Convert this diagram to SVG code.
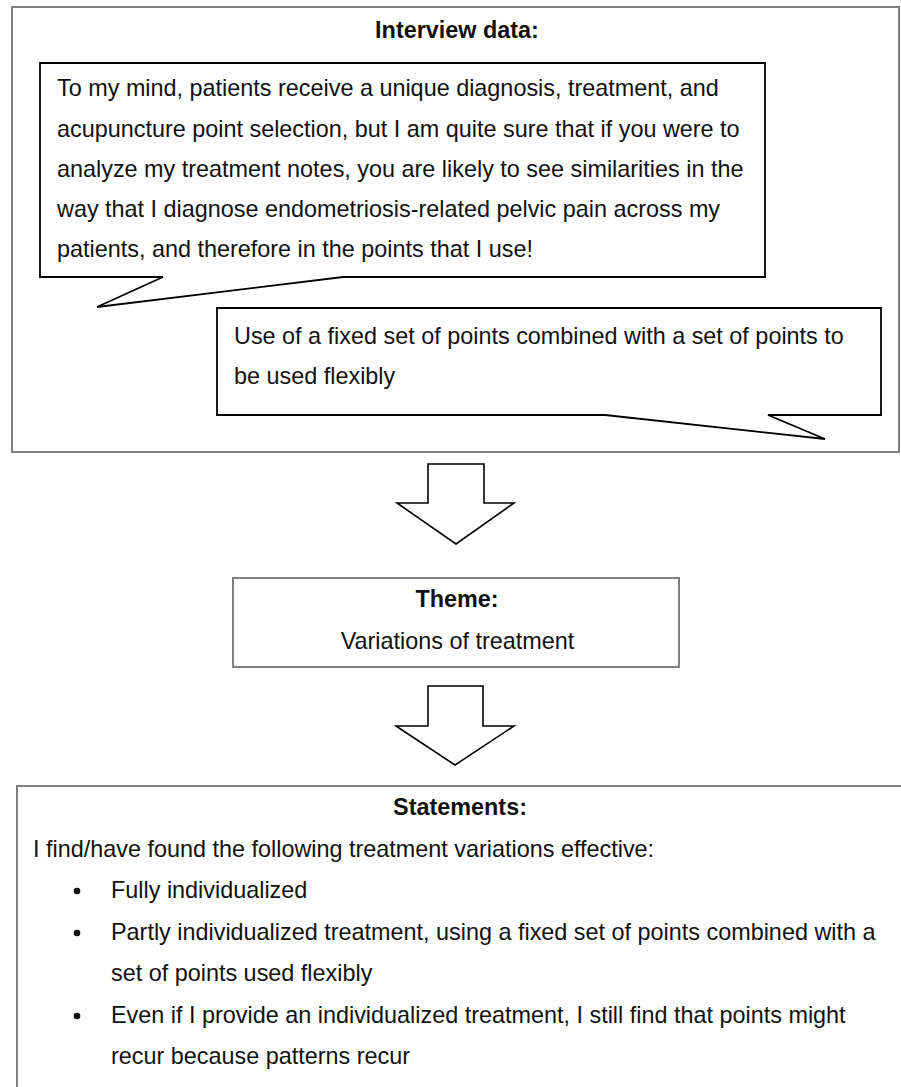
<svg xmlns="http://www.w3.org/2000/svg" width="901" height="1087" viewBox="0 0 901 1087">
<style>
  .frame { fill: #ffffff; stroke: #808080; stroke-width: 2; }
  .bubble { fill: #ffffff; stroke: #000000; stroke-width: 1.8; stroke-linejoin: miter; }
  .arrow { fill: #ffffff; stroke: #000000; stroke-width: 1.6; }
  text { font-family: "Liberation Sans", Arial, sans-serif; font-size: 23.4px; fill: #111111; }
  .bold { font-weight: bold; }
  .mid { text-anchor: middle; }
</style>
<rect x="0" y="0" width="901" height="1087" fill="#ffffff"/>
<g id="interview-data">
  <rect class="frame" x="12" y="7" width="887" height="445"/>
  <text class="bold mid" x="457" y="38">Interview data:</text>
</g>
<g id="quote-bubble">
  <polygon class="bubble" points="40,63 765,63 765,277 343,277 97,307 163,277 40,277"/>
  <text x="57" y="96">To my mind, patients receive a unique diagnosis, treatment, and</text>
  <text x="57" y="136.5">acupuncture point selection, but I am quite sure that if you were to</text>
  <text x="57" y="176.5">analyze my treatment notes, you are likely to see similarities in the</text>
  <text x="57" y="216.5">way that I diagnose endometriosis-related pelvic pain across my</text>
  <text x="57" y="256.5">patients, and therefore in the points that I use!</text>
</g>
<g id="code-bubble">
  <polygon class="bubble" points="217,308 881,308 881,415 768,415 825,439 605,415 217,415"/>
  <text x="234" y="343.5">Use of a fixed set of points combined with a set of points to</text>
  <text x="234" y="384">be used flexibly</text>
</g>
<g id="theme">
  <rect class="frame" x="233" y="578" width="446" height="89"/>
  <text class="bold mid" x="457" y="607">Theme:</text>
  <text class="mid" x="457.5" y="649">Variations of treatment</text>
</g>
<g id="statements">
  <rect class="frame" x="17" y="786" width="900" height="320"/>
  <text class="bold mid" x="460" y="815">Statements:</text>
  <text x="33" y="857">I find/have found the following treatment variations effective:</text>
  <circle cx="77" cy="891" r="3.3" fill="#111111"/>
  <text x="111" y="898">Fully individualized</text>
  <circle cx="77" cy="933" r="3.3" fill="#111111"/>
  <text x="111" y="940">Partly individualized treatment, using a fixed set of points combined with a</text>
  <text x="111" y="980.5">set of points used flexibly</text>
  <circle cx="77" cy="1016" r="3.3" fill="#111111"/>
  <text x="111" y="1023">Even if I provide an individualized treatment, I still find that points might</text>
  <text x="111" y="1063.5">recur because patterns recur</text>
</g>
<g id="connectors">
  <polygon class="arrow" points="428,464 484,464 484,503 514,503 456,544 397,503 428,503"/>
  <polygon class="arrow" points="428,686 483,686 483,726 514,726 455,765 396,726 428,726"/>
</g>
</svg>
